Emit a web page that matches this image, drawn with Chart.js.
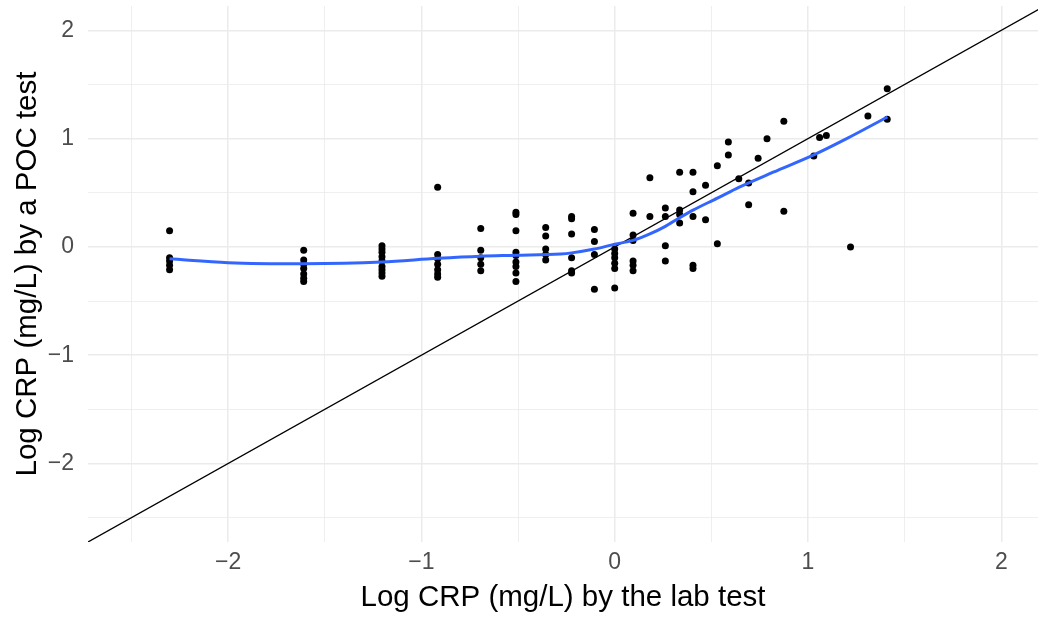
<!DOCTYPE html>
<html>
<head>
<meta charset="utf-8">
<script src="https://cdn.jsdelivr.net/npm/chart.js@4"></script>
<style>
  html, body { margin: 0; padding: 0; background: #fff; overflow: hidden; }
  #wrap { width: 1038px; height: 617px; }
</style>
</head>
<body>
<div id="wrap"><canvas id="crp-chart"></canvas></div>
<script>
// ── DATA ──────────────────────────────────────────────────────────
// log CRP by the lab test (x) and by the POC test (y), one entry per sample
const labLog = [
  -2.303, -2.303, -2.303, -2.303, -2.303,
  -1.609, -1.609, -1.609, -1.609, -1.609, -1.609, -1.609,
  -1.204, -1.204, -1.204, -1.204, -1.204, -1.204, -1.204, -1.204, -1.204,
  -0.916, -0.916, -0.916, -0.916, -0.916, -0.916, -0.916,
  -0.693, -0.693, -0.693, -0.693, -0.693,
  -0.511, -0.511, -0.511, -0.511, -0.511, -0.511, -0.511, -0.511, -0.511,
  -0.357, -0.357, -0.357, -0.357, -0.357,
  -0.223, -0.223, -0.223, -0.223, -0.223, -0.223,
  -0.105, -0.105, -0.105, -0.105,
  0, 0, 0, 0, 0, 0,
  0.095, 0.095, 0.095, 0.095, 0.095, 0.095,
  0.182, 0.182,
  0.262, 0.262, 0.262, 0.262,
  0.336, 0.336, 0.336, 0.336,
  0.405, 0.405, 0.405, 0.405, 0.405,
  0.47, 0.47,
  0.531, 0.531,
  0.588, 0.588,
  0.642,
  0.693, 0.693,
  0.742,
  0.788,
  0.875, 0.875,
  1.03, 1.06, 1.095, 1.22, 1.31,
  1.41, 1.41
];
const pocLog = [
  0.15, -0.10, -0.13, -0.17, -0.21,
  -0.03, -0.12, -0.16, -0.20, -0.25, -0.29, -0.32,
  0.01, -0.02, -0.05, -0.09, -0.13, -0.18, -0.21, -0.24, -0.27,
  0.55, -0.07, -0.11, -0.16, -0.21, -0.25, -0.28,
  0.17, -0.03, -0.10, -0.16, -0.22,
  0.32, 0.30, 0.15, -0.05, -0.08, -0.14, -0.18, -0.24, -0.32,
  0.18, 0.10, -0.02, -0.07, -0.12,
  0.28, 0.26, 0.12, -0.10, -0.22, -0.24,
  0.16, 0.05, -0.07, -0.39,
  -0.02, -0.06, -0.10, -0.15, -0.20, -0.38,
  0.31, 0.11, 0.06, -0.13, -0.17, -0.22,
  0.64, 0.28,
  0.36, 0.28, 0.01, -0.13,
  0.69, 0.34, 0.30, 0.22,
  0.69, 0.51, 0.28, -0.17, -0.20,
  0.57, 0.25,
  0.75, 0.03,
  0.97, 0.85,
  0.63,
  0.59, 0.39,
  0.82,
  1.00,
  1.16, 0.33,
  0.84, 1.01, 1.03, 0.00, 1.21,
  1.46, 1.18
];

// loess smooth
const smoothX = [-2.303, -2.0, -1.609, -1.204, -0.916, -0.693, -0.511, -0.28, -0.223, -0.105, 0, 0.095, 0.182, 0.262, 0.336, 0.405, 0.531, 0.642, 0.82, 1.03, 1.2, 1.411];
const smoothY = [-0.11, -0.145, -0.155, -0.14, -0.105, -0.085, -0.077, -0.065, -0.055, -0.02, 0.025, 0.06, 0.12, 0.19, 0.27, 0.34, 0.45, 0.55, 0.69, 0.85, 1.0, 1.2];

// identity line y = x
const identityX = [-3, 3];
const identityY = [-3, 3];

// limits -2.5..2 plus 5% expansion; on x the panel is cut by the right edge
const AXIS_MIN = -2.725;
const X_MAX = 2.19;
const Y_MAX = 2.225;

// ── CHART ─────────────────────────────────────────────────────────
const FONT = 'Liberation Sans, Arial, Helvetica, sans-serif';
const fmt = v => Number.isInteger(v) ? String(v).replace('-', '\u2212') : '';
const gridStyle = {
  color: '#ebebeb',
  lineWidth: ctx => Number.isInteger(ctx.tick.value) ? 1.5 : 0.8,
  drawTicks: false,
};

new Chart(document.getElementById('crp-chart'), {
  type: 'scatter',
  data: {
    datasets: [
      {
        label: 'y = x',
        data: identityX.map((x, i) => ({ x, y: identityY[i] })),
        showLine: true,
        borderColor: '#000',
        borderWidth: 1.3,
        pointRadius: 0,
        clip: 0,
        order: 3,
      },
      {
        label: 'samples',
        data: labLog.map((x, i) => ({ x, y: pocLog[i] })),
        backgroundColor: '#000',
        borderWidth: 0,
        pointRadius: 3.5,
        order: 2,
      },
      {
        label: 'loess',
        data: smoothX.map((x, i) => ({ x, y: smoothY[i] })),
        showLine: true,
        borderColor: '#3366ff',
        borderWidth: 3,
        pointRadius: 0,
        cubicInterpolationMode: 'monotone',
        order: 1,
      },
    ]
  },
  options: {
    responsive: true,
    maintainAspectRatio: false,
    animation: false,
    layout: { autoPadding: false, padding: { top: 6, right: 0, bottom: 0, left: 0 } },
    plugins: { legend: { display: false }, tooltip: { enabled: false } },
    scales: {
      x: {
        type: 'linear',
        min: AXIS_MIN, max: X_MAX,
        afterFit: s => { s.height = 75; s.paddingLeft = 0; s.paddingRight = 0; },
        border: { display: false },
        grid: gridStyle,
        ticks: { stepSize: 0.5, includeBounds: false, autoSkip: false, maxRotation: 0,
          padding: 7, color: '#4d4d4d', font: { family: FONT, size: 23 }, callback: fmt },
        title: { display: true, text: 'Log CRP (mg/L) by the lab test', color: '#000',
          font: { family: FONT, size: 29.5 }, padding: { top: 0, bottom: 1 } },
      },
      y: {
        type: 'linear',
        min: AXIS_MIN, max: Y_MAX,
        afterFit: s => { s.width = 88; s.paddingTop = 0; s.paddingBottom = 0; },
        border: { display: false },
        grid: gridStyle,
        ticks: { stepSize: 0.5, includeBounds: false, autoSkip: false,
          padding: 14, color: '#4d4d4d', font: { family: FONT, size: 23 }, callback: fmt },
        title: { display: true, text: 'Log CRP (mg/L) by a POC test', color: '#000',
          font: { family: FONT, size: 29.5 }, padding: { top: 10.5, bottom: 0 } },
      },
    }
  }
});
</script>
</body>
</html>
